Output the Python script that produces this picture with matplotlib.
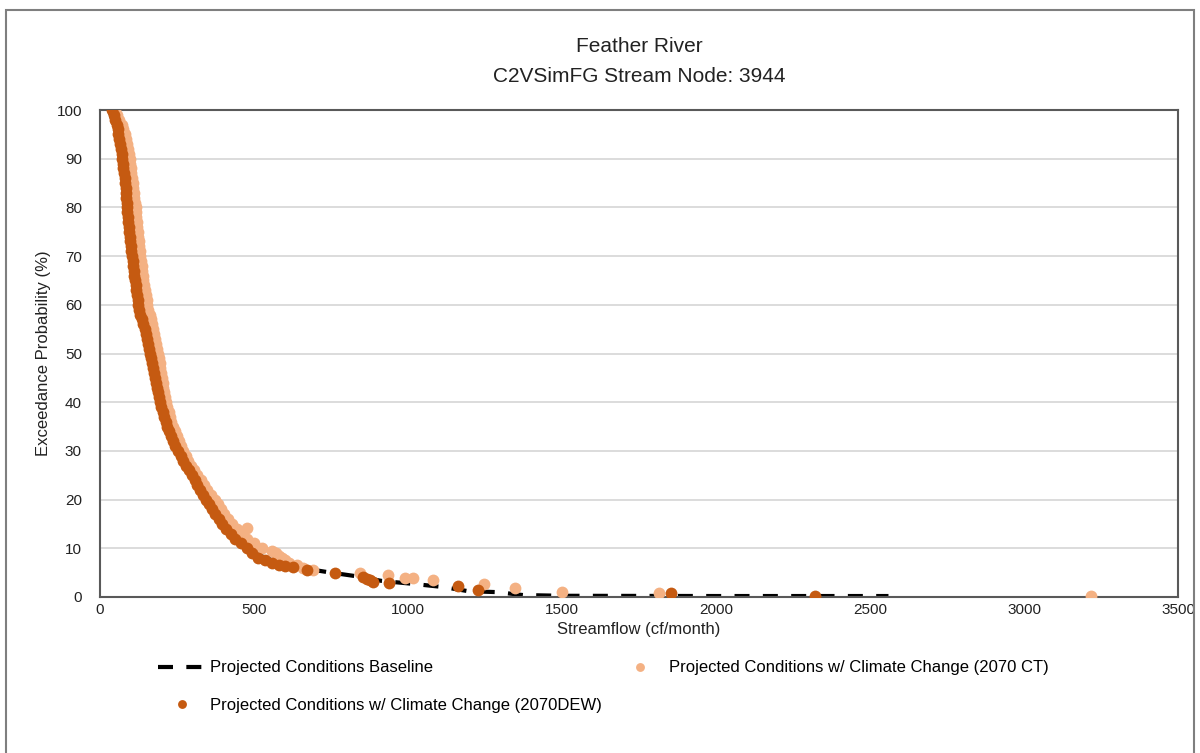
import numpy as np
import matplotlib
matplotlib.use("Agg")
import matplotlib.pyplot as plt
from matplotlib.patches import Rectangle

plt.rcParams['font.family'] = ['Liberation Sans', 'DejaVu Sans']

# baseline exceedance curve (flow, exceedance %)
base_flow = [30, 45, 60, 72, 82, 90, 97, 105, 112, 120, 130, 145, 160, 175, 190, 210, 240,
             275, 320, 370, 420, 470, 520, 580, 650, 740, 828, 915, 1016, 1114, 1195, 1289,
             1373, 1500, 2000, 2560]
base_exc = [100, 97, 93, 89, 85, 80, 75, 70, 66, 61, 58, 55, 51, 46, 41, 36, 31,
            27, 22, 17, 13, 10.5, 8.5, 7, 6, 5.1, 4.3, 3.3, 2.7, 2.05, 1.2, 1.0,
            0.4, 0.25, 0.2, 0.2]

# climate change 2070 CT
ct_flow = [48, 55, 62, 70, 76, 80, 85, 89, 92, 94, 96, 98, 100, 102, 104, 106, 108, 110, 112, 114,
           116, 117, 118, 120, 121, 122, 124, 125, 127, 129, 131, 133, 135, 137, 139, 141, 143, 145,
           148, 151, 154, 157, 161, 165, 169, 172, 175, 178, 181, 184, 188, 191, 194, 196, 198, 200,
           203, 206, 209, 212, 215, 219, 223, 227, 232, 237, 243, 249, 256, 263, 270, 278, 287, 296,
           306, 316, 327, 338, 349, 360, 372, 382, 393, 404, 416, 430, 477, 445, 460, 478, 500, 525,
           560, 570, 582, 590, 600, 615, 640, 660, 690,
           844, 935, 990, 1016, 1081, 1247, 1347, 1500, 1815, 3218]
ct_exc = [100, 99, 98, 97, 96, 95, 94, 93, 92, 91, 90, 89, 88, 87, 86, 85, 84, 83, 82, 81,
          80, 79, 78, 77, 76, 75, 74, 73, 72, 71, 70, 69, 68, 67, 66, 65, 64, 63,
          62, 61, 60, 59, 58, 57, 56, 55, 54, 53, 52, 51, 50, 49, 48, 47, 46, 45,
          44, 43, 42, 41, 40, 39, 38, 37, 36, 35, 34, 33, 32, 31, 30, 29, 28, 27,
          26, 25, 24, 23, 22, 21, 20, 19, 18, 17, 16, 15, 14.2, 14, 13, 12, 11, 10,
          9.5, 9, 8.5, 8, 7.6, 7, 6.5, 6, 5.5,
          4.9, 4.5, 4.0, 3.9, 3.5, 2.6, 1.8, 1.0, 0.8, 0.2]

# climate change 2070 DEW
dew_flow = [40, 45, 50, 54, 57, 60, 63, 66, 68, 70, 72, 74, 76, 78, 80, 82, 83, 84, 86, 87,
            88, 89, 90, 92, 93, 94, 96, 98, 100, 102, 104, 106, 108, 110, 112, 114, 116, 118,
            120, 122, 124, 127, 131, 135, 140, 145, 149, 153, 157, 160, 163, 166, 170, 173, 176,
            179, 182, 185, 188, 191, 195, 199, 204, 208, 213, 218, 224, 231, 238, 245, 253, 262,
            270, 279, 288, 298, 307, 316, 325, 334, 343, 353, 363, 374, 385, 396, 410, 424, 438,
            457, 477, 495, 513, 535, 558, 580, 600,
            627, 672, 763, 854, 866, 876, 886, 938, 1162, 1227, 1854, 2321]
dew_exc = [100, 99, 98, 97, 96, 95, 94, 93, 92, 91, 90, 89, 88, 87, 86, 85, 84, 83, 82, 81,
           80, 79, 78, 77, 76, 75, 74, 73, 72, 71, 70, 69, 68, 67, 66, 65, 64, 63,
           62, 61, 60, 59, 58, 57, 56, 55, 54, 53, 52, 51, 50, 49, 48, 47, 46,
           45, 44, 43, 42, 41, 40, 39, 38, 37, 36, 35, 34, 33, 32, 31, 30, 29,
           28, 27, 26, 25, 24, 23, 22, 21, 20, 19, 18, 17, 16, 15, 14, 13, 12,
           11, 10, 9, 8, 7.5, 7, 6.6, 6.3,
           6.2, 5.5, 4.9, 4.1, 3.7, 3.4, 3.1, 2.9, 2.3, 1.4, 0.8, 0.2]

fig = plt.figure(figsize=(12, 7.53), dpi=100)
ax = fig.add_axes([100/1200, 1-597/753, 1078/1200, 487/753])

ax.plot(base_flow, base_exc, color='black', lw=3, dashes=(3.6, 3.2),
        label='Projected Conditions Baseline', zorder=2)
ax.plot(ct_flow, ct_exc, 'o', color='#F4B183', ms=8.5, mec='none',
        label='Projected Conditions w/ Climate Change (2070 CT)', zorder=3)
ax.plot(dew_flow, dew_exc, 'o', color='#C55A11', ms=8.5, mec='none',
        label='Projected Conditions w/ Climate Change (2070DEW)', zorder=4)

ax.set_xlim(0, 3500)
ax.set_ylim(0, 100)
ax.set_xticks(np.arange(0, 3501, 500))
ax.set_yticks(np.arange(0, 101, 10))
ax.yaxis.grid(True, color='#D9D9D9', lw=1.3)
ax.set_axisbelow(True)
ax.tick_params(axis='x', length=0, pad=4, labelsize=11, labelcolor='#222222')
ax.tick_params(axis='y', length=0, pad=13, labelsize=11, labelcolor='#222222')
for s in ax.spines.values():
    s.set_color('#595959')
    s.set_linewidth(1.5)

ax.set_xlabel('Streamflow (cf/month)', fontsize=12, labelpad=4, color='#222222')
ax.set_ylabel('Exceedance Probability (%)', fontsize=12, labelpad=4, color='#222222')
ax.set_title('Feather River\nC2VSimFG Stream Node: 3944', fontsize=15, pad=20,
             color='#222222', linespacing=1.75)

h, l = ax.get_legend_handles_labels()
order = [0, 2, 1]
leg = fig.legend([h[i] for i in order], [l[i] for i in order], ncol=2,
                 loc='upper left', bbox_to_anchor=(150/1200, 1-652/753),
                 frameon=False, fontsize=12, handlelength=2.8, handletextpad=0.3,
                 labelspacing=1.35, columnspacing=0.9, borderpad=0, markerscale=0.75)

fig.patches.append(Rectangle((6/1200, -0.05), 1188/1200, 1.05 - 10/753,
                             transform=fig.transFigure, fill=False,
                             edgecolor='#7f7f7f', lw=1.5))

fig.savefig('out.png', dpi=100)
